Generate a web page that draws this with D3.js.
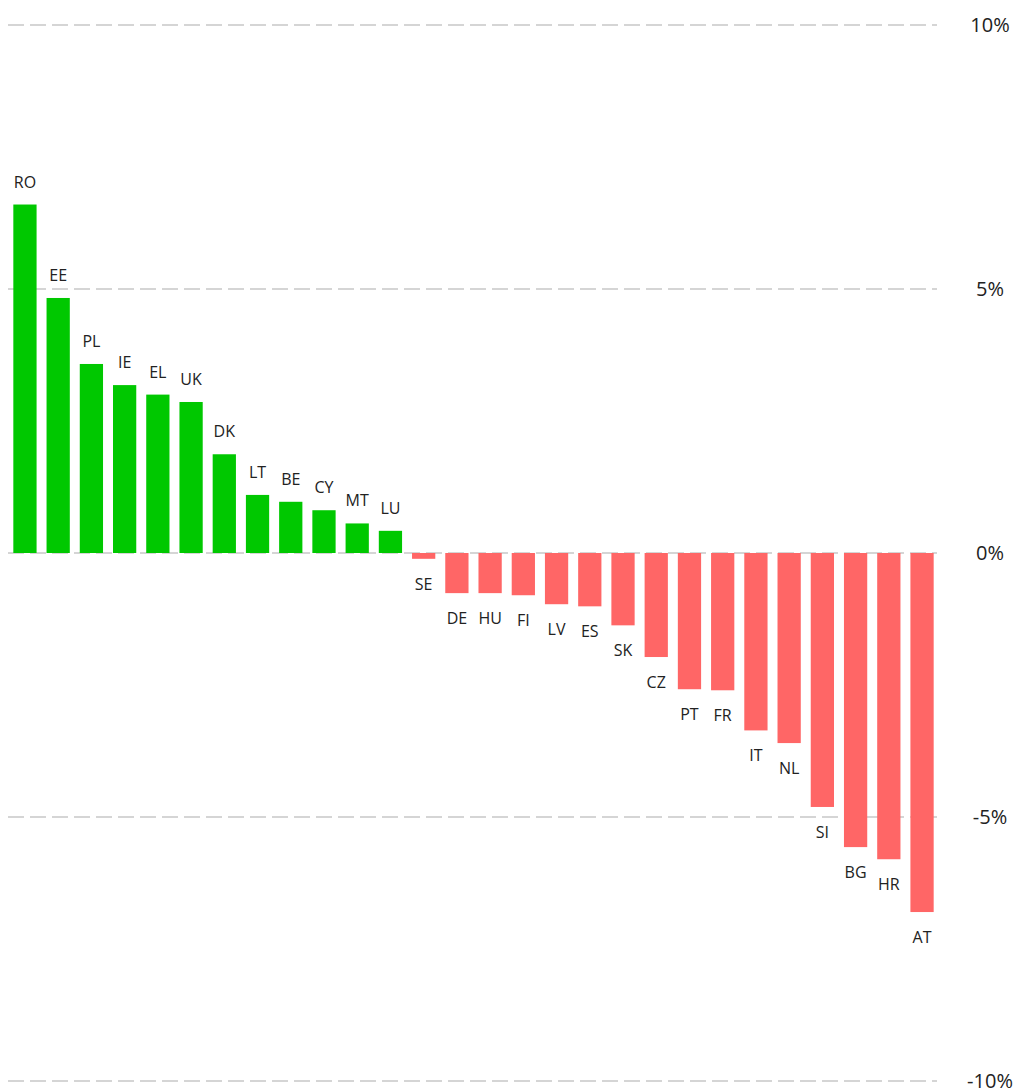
<!DOCTYPE html>
<html>
<head>
<meta charset="utf-8">
<script src="https://cdn.jsdelivr.net/npm/d3@7"></script>
<style>
  body { margin: 0; background: #fff; }
  text { font-family: "Open Sans", "Noto Sans", sans-serif; fill: #222; }
</style>
</head>
<body>
<div id="chart"></div>
<script>
const countries = ["RO","EE","PL","IE","EL","UK","DK","LT","BE","CY","MT","LU","SE","DE","HU","FI","LV","ES","SK","CZ","PT","FR","IT","NL","SI","BG","HR","AT"];
const values = [6.6, 4.83, 3.58, 3.18, 3.0, 2.86, 1.87, 1.1, 0.97, 0.81, 0.56, 0.42, -0.11, -0.76, -0.76, -0.8, -0.97, -1.01, -1.37, -1.97, -2.58, -2.6, -3.36, -3.6, -4.81, -5.57, -5.8, -6.8];
const tickValues = [10, 5, 0, -5, -10];
const tickLabels = ["10%", "5%", "0%", "-5%", "-10%"];

const data = countries.map((c, i) => ({ country: c, value: values[i] }));
const width = 1027, height = 1092;

const svg = d3.select("#chart").append("svg")
    .attr("width", width)
    .attr("height", height);

const x = d3.scaleBand()
    .domain(countries)
    .range([10, 937])
    .paddingInner(0.3)
    .paddingOuter(0.1);

const y = d3.scaleLinear()
    .domain([-10, 10])
    .range([1081, 25]);

// gridlines
svg.append("g")
    .selectAll("line")
    .data(tickValues)
    .enter()
    .append("line")
    .attr("x1", 8)
    .attr("x2", 937)
    .attr("y1", d => y(d))
    .attr("y2", d => y(d))
    .attr("stroke", "#c8c8c8")
    .attr("stroke-width", 1.5)
    .attr("stroke-dasharray", "16,6");

// tick labels on the right
svg.append("g")
    .selectAll("text")
    .data(tickValues)
    .enter()
    .append("text")
    .attr("x", 990)
    .attr("y", d => y(d) + 7)
    .style("text-anchor", "middle")
    .style("font-size", "20px")
    .text((d, i) => tickLabels[i]);

svg.selectAll("rect.bar")
    .data(data)
    .enter()
    .append("rect")
    .attr("class", "bar")
    .attr("x", d => x(d.country))
    .attr("width", x.bandwidth())
    .attr("y", d => y(Math.max(0, d.value)))
    .attr("height", d => Math.abs(y(d.value) - y(0)))
    .attr("fill", d => d.value >= 0 ? "#00c800" : "#ff6666");

svg.selectAll("text.lbl")
    .data(data)
    .enter()
    .append("text")
    .attr("class", "lbl")
    .attr("x", d => x(d.country) + x.bandwidth() / 2)
    .attr("y", d => d.value >= 0 ? y(d.value) - 17 : y(d.value) + 31)
    .style("text-anchor", "middle")
    .style("font-size", "16px")
    .text(d => d.country);
</script>
</body>
</html>
